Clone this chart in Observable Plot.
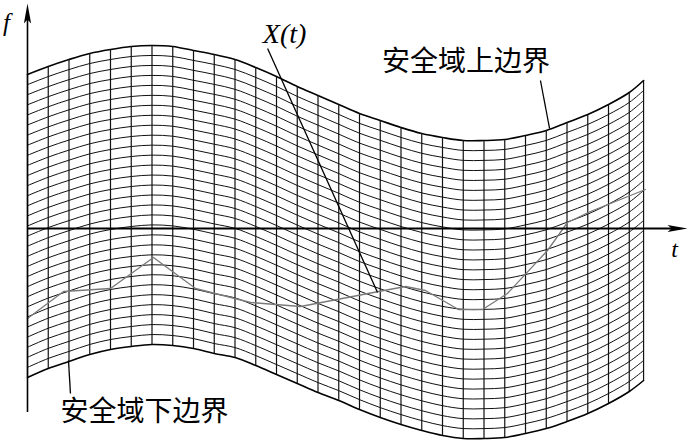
<!DOCTYPE html>
<html><head><meta charset="utf-8">
<script src="https://cdn.jsdelivr.net/npm/d3@7"></script>
<script src="https://cdn.jsdelivr.net/npm/@observablehq/plot@0.6"></script>
<style>body{margin:0;background:#fff}</style>
</head><body><div id="chart"></div>
<script>
// sample positions along t (vertical grid lines; last = right edge of the band)
const tValues = [0,1,2,3,4,5,6,7,8,9,10,11,12,13,14,15,16,17,18,19,20,21,22,23,24,25,26,27,28,29,29.69];
// upper boundary of the safe region (f units)
const upperF = [15.4,16.2,16.9,17.5,17.9,18.2,18.3,18.2,17.8,17.4,16.9,16.1,15.2,14.2,13.3,12.4,11.5,10.8,10.1,9.5,9.1,8.8,8.8,8.9,9.3,9.8,10.6,11.4,12.4,13.6,14.8];
// lower boundary of the safe region (f units)
const lowerF = [-14.9,-14.0,-13.3,-12.6,-12.1,-11.8,-11.6,-11.7,-12.0,-12.5,-12.9,-13.7,-14.6,-15.5,-16.4,-17.2,-18.1,-18.9,-19.6,-20.2,-20.7,-21.0,-21.0,-20.9,-20.5,-20.0,-19.3,-18.5,-17.5,-16.3,-15.2];
const gridDivisions = 30;
// trajectory X(t)
const xtT = [0,1.735,4.0,6.07,8.10,10.75,13.16,16.92,18.22,19.18,20.77,21.93,23.13,25.06,26.02,27.13,29.78];
const xtF = [-9.0,-6.3,-6.0,-2.9,-6.0,-7.4,-7.8,-6.3,-5.8,-6.2,-8.1,-8.1,-6.5,-2.2,0.6,1.7,3.9];
// axes extents
const fAxis = {t: 0, from: -18.4, to: 22.5};
const tAxis = {f: 0, from: 0, to: 31.81};
// labels
const mathLabels = [
  {t: -1.01, f: 20.6, text: "f", size: 25},
  {t: 31.18, f: -2.1, text: "t", size: 24},
  {t: 12.39, f: 19.4, text: "X(t)", size: 28}
];
const cjkLabels = [
  {t: 21.13, f: 16.65, text: "安全域上边界"},
  {t: 5.64, f: -18.4, text: "安全域下边界"}
];
const leaders = [
  {t1: 11.57, f1: 18.0, t2: 16.87, f2: -6.4},
  {t1: 24.72, f1: 14.8, t2: 25.16, f2: 10.0},
  {t1: 1.976, f1: -13.2, t2: 2.07, f2: -16.5}
];

// build mesh
const meshRows = [];
for (let k = 0; k <= gridDivisions; k++) {
  tValues.forEach((t, i) => {
    meshRows.push({k, t, f: upperF[i] + (lowerF[i] - upperF[i]) * k / gridDivisions});
  });
}
const inner = meshRows.filter(d => d.k > 0 && d.k < gridDivisions);
const bounds = meshRows.filter(d => d.k === 0 || d.k === gridDivisions);
const verticals = tValues.map((t, i) => ({t, lo: lowerF[i], hi: upperF[i]}));
const xt = xtT.map((t, i) => ({t, f: xtF[i]}));

const arrowUp = {draw(ctx) { ctx.moveTo(0, 0); ctx.lineTo(3.6, 20); ctx.lineTo(0, 16); ctx.lineTo(-3.6, 20); ctx.closePath(); }};

const chart = Plot.plot({
  width: 688, height: 441,
  marginLeft: 0, marginRight: 0, marginTop: 0, marginBottom: 0,
  x: {domain: [-1.3012, 31.855], axis: null},
  y: {domain: [-21.3, 22.8], axis: null},
  marks: [
    Plot.line(inner, {x: "t", y: "f", z: "k", curve: "catmull-rom", stroke: "#111", strokeWidth: 1}),
    Plot.line(bounds, {x: "t", y: "f", z: "k", curve: "catmull-rom", stroke: "#000", strokeWidth: 1.6}),
    Plot.ruleX(verticals, {x: "t", y1: "lo", y2: "hi", stroke: "#111", strokeWidth: 1.2}),
    Plot.line(xt, {x: "t", y: "f", stroke: "#7a7a7a", strokeWidth: 1.3}),
    Plot.ruleX([fAxis], {x: "t", y1: "from", y2: d => d.to - 1.5, stroke: "#000", strokeWidth: 1.6}),
    Plot.ruleY([tAxis], {y: "f", x1: "from", x2: d => d.to - 0.7, stroke: "#000", strokeWidth: 2}),
    Plot.dot([fAxis], {x: "t", y: "to", symbol: arrowUp, fill: "#000", stroke: "none"}),
    Plot.dot([tAxis], {x: "to", y: "f", symbol: arrowUp, rotate: 90, fill: "#000", stroke: "none"}),
    Plot.link(leaders, {x1: "t1", y1: "f1", x2: "t2", y2: "f2", stroke: "#000", strokeWidth: 1.3}),
    Plot.text(mathLabels, {x: "t", y: "f", text: "text", fontSize: "size", fontFamily: "Liberation Serif", fontStyle: "italic", fill: "#000"}),
    Plot.text(cjkLabels, {x: "t", y: "f", text: "text", fontSize: 28, fontFamily: "Noto Sans CJK SC", fill: "#000"})
  ]
});
document.getElementById("chart").appendChild(chart);
</script>
</body></html>
